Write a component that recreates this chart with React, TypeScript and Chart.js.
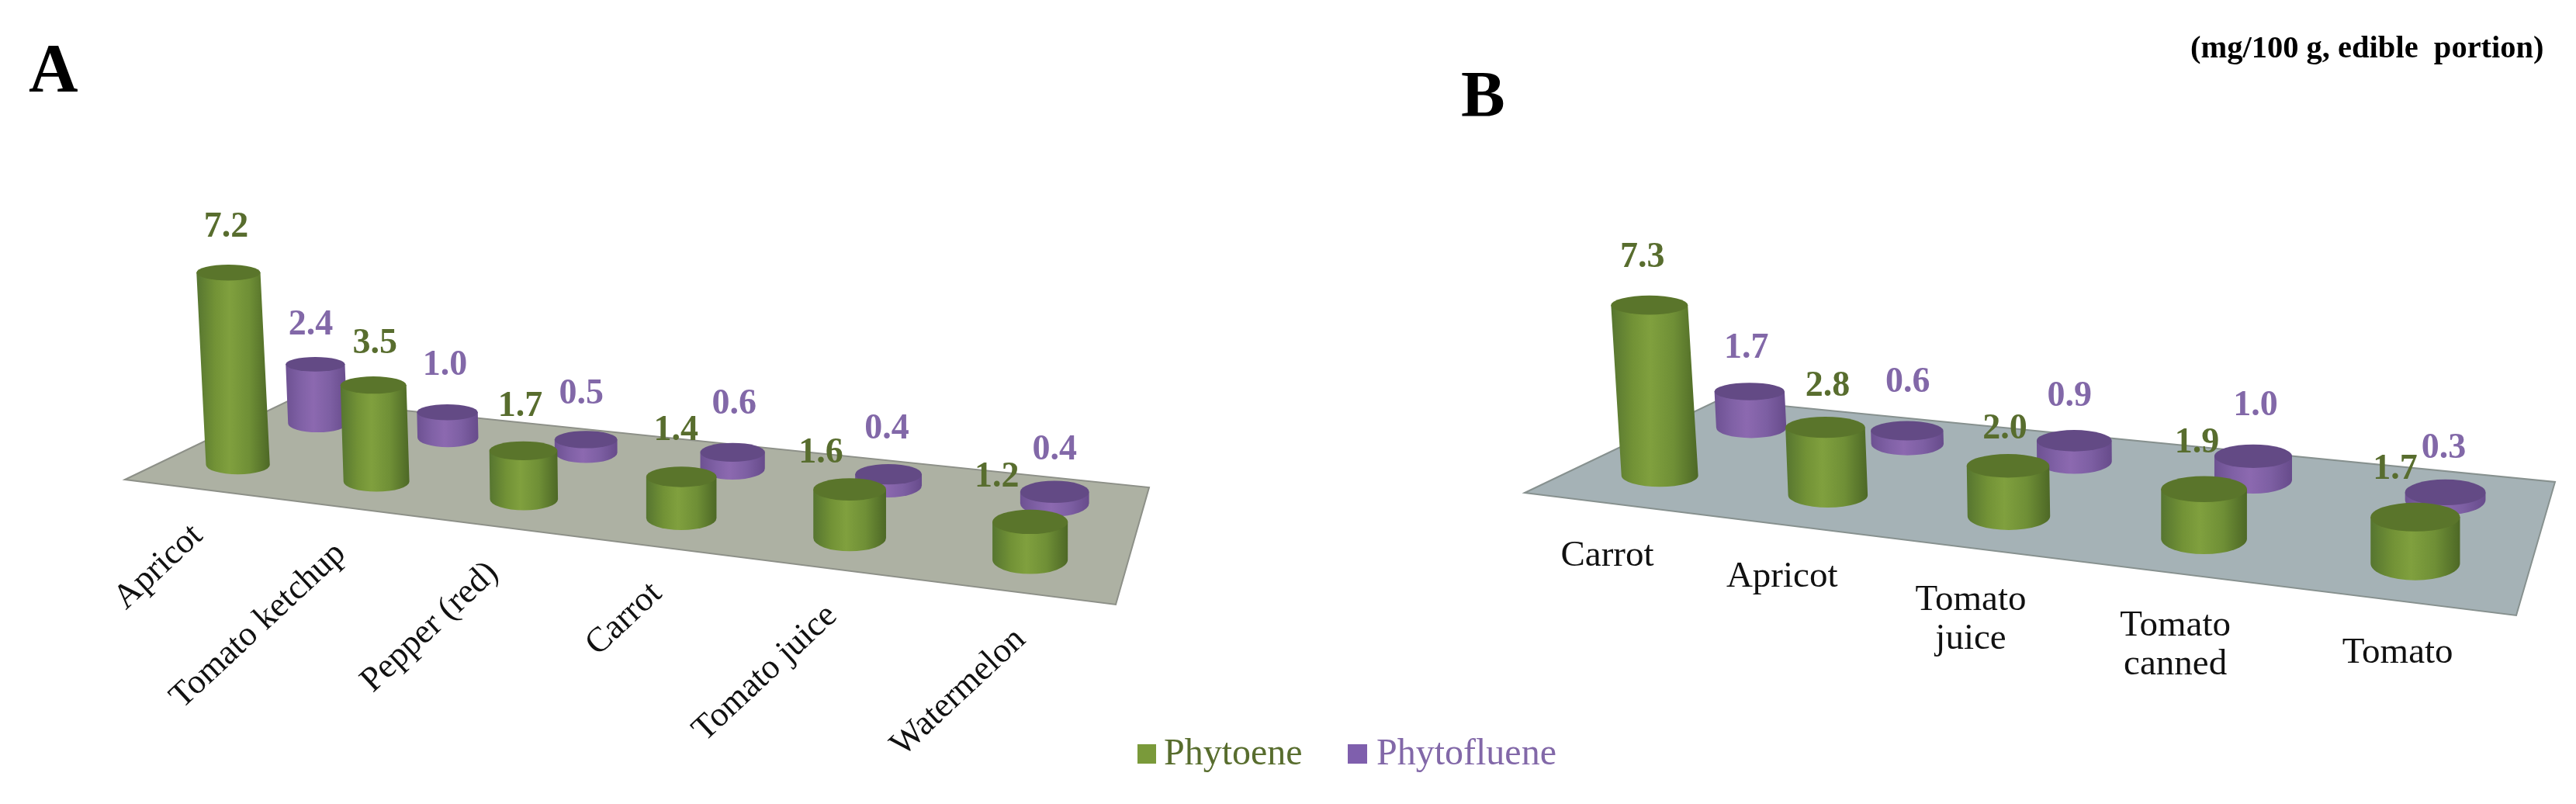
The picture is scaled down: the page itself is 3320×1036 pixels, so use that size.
import React, { useEffect, useRef } from "react";
import { Chart, registerables } from "chart.js";

Chart.register(...registerables);

// ---- data ----
const categoriesA = ["Apricot", "Tomato ketchup", "Pepper (red)", "Carrot", "Tomato juice", "Watermelon"];
const phytoeneA = [7.2, 3.5, 1.7, 1.4, 1.6, 1.2];
const phytoflueneA = [2.4, 1.0, 0.5, 0.6, 0.4, 0.4];

const categoriesB = ["Carrot", "Apricot", ["Tomato", "juice"], ["Tomato", "canned"], "Tomato"];
const phytoeneB = [7.3, 2.8, 2.0, 1.9, 1.7];
const phytoflueneB = [1.7, 0.6, 0.9, 1.0, 0.3];

const seriesNames = ["Phytoene", "Phytofluene"];

// ---- style / layout ----
const SERIF = "'Liberation Serif', serif";
const GREEN = { edgeL: "#567530", midL: "#729236", light: "#80a03e", midR: "#6f8f36", edgeR: "#4d6826", top: "#5a752b", text: "#586d2e", key: "#7a9a3a" };
const PURPLE = { edgeL: "#6d5192", midL: "#8061a6", light: "#8c69b0", midR: "#7d5fa3", edgeR: "#674b8b", top: "#634a85", text: "#8268a8", key: "#7f5fad" };
const PALETTE = [GREEN, PURPLE];
const ROW_DEPTH = [0.25, 0.75];

type P = [number, number];
interface PanelCfg {
  left: number; width: number;
  quad: P[]; // front-left, front-right, back-right, back-left (page pixels)
  floor: string; floorEdge: string;
  barShare: number; heightK: number; vanishX: number;
  rotated: boolean;
  nudges: P[][]; // value label offset from cylinder top, per series
}

const panelA: PanelCfg = {
  left: 0, width: 1660,
  quad: [[161, 618], [1438, 779], [1481, 628], [377, 514]],
  floor: "#adb1a3", floorEdge: "#8d9088",
  barShare: 0.305, heightK: 0.2726, vanishX: 800, rotated: true,
  nudges: [
    [[-3, -58], [2, -53], [-4, -57], [-7, -59], [-37, -47], [-43, -57]],
    [[-6, -50], [-3, -60], [-6, -58], [2, -62], [-2, -58], [0, -54]],
  ],
};
const panelB: PanelCfg = {
  left: 1660, width: 1660,
  quad: [[1965, 635], [3243, 793], [3293, 621], [2216, 515]],
  floor: "#a5b2b6", floorEdge: "#87918f",
  barShare: 0.307, heightK: 0.2394, vanishX: 2750, rotated: false,
  nudges: [
    [[-9, -61], [3, -53], [-4, -47], [-9, -59], [-26, -61]],
    [[-4, -55], [1, -62], [-6, -57], [3, -65], [-2, -56]],
  ],
};

function makeHomography(q: P[]) {
  const [[x0, y0], [x1, y1], [x2, y2], [x3, y3]] = q;
  const dx1 = x1 - x2, dx2 = x3 - x2, sx = x0 - x1 + x2 - x3;
  const dy1 = y1 - y2, dy2 = y3 - y2, sy = y0 - y1 + y2 - y3;
  const det = dx1 * dy2 - dx2 * dy1;
  const g = (sx * dy2 - dx2 * sy) / det;
  const h = (dx1 * sy - sx * dy1) / det;
  const a = x1 - x0 + g * x1, b = x3 - x0 + h * x3;
  const d = y1 - y0 + g * y1, e = y3 - y0 + h * y3;
  return (u: number, v: number) => {
    const w = g * u + h * v + 1;
    return { x: (a * u + b * v + x0) / w, y: (d * u + e * v + y0) / w, s: 1 / w };
  };
}

function perspectivePlugin(cfg: PanelCfg) {
  const H = makeHomography(cfg.quad);
  const toLocal = (x: number) => x - cfg.left;
  const tops = new Map<string, { x: number; y: number }>();

  return {
    id: "perspective",
    beforeDatasetsDraw(chart: any) {
      const ctx = chart.ctx;
      ctx.save();
      ctx.beginPath();
      cfg.quad.forEach(([x, y], i) => (i ? ctx.lineTo(toLocal(x), y) : ctx.moveTo(toLocal(x), y)));
      ctx.closePath();
      ctx.fillStyle = cfg.floor;
      ctx.fill();
      ctx.strokeStyle = cfg.floorEdge;
      ctx.lineWidth = 2;
      ctx.stroke();
      ctx.restore();
    },
    beforeDatasetDraw(chart: any, args: any) {
      const ctx = chart.ctx;
      const area = chart.chartArea;
      const col = PALETTE[args.index];
      const v = ROW_DEPTH[args.index];
      ctx.save();
      args.meta.data.forEach((bar: any, i: number) => {
        const u = (bar.x - area.left) / (area.right - area.left);
        const p = H(u, v);
        const bx = toLocal(p.x), by = p.y;
        const rx = (bar.width / 2) * p.s;
        const ry = rx * (0.24 + 0.09 * u);
        const ryB = ry * 1.18;
        const height = (bar.base - bar.y) * cfg.heightK * p.s;
        const tx = bx + Math.min(0, (p.x - cfg.vanishX) * height * 0.0001);
        const ty = by - height;
        const grad = ctx.createLinearGradient(Math.min(tx, bx) - rx, 0, Math.max(tx, bx) + rx, 0);
        grad.addColorStop(0, col.edgeL);
        grad.addColorStop(0.25, col.midL);
        grad.addColorStop(0.45, col.light);
        grad.addColorStop(0.72, col.midR);
        grad.addColorStop(1, col.edgeR);
        ctx.beginPath();
        ctx.moveTo(tx - rx, ty);
        ctx.lineTo(bx - rx, by);
        ctx.ellipse(bx, by, rx, ryB, 0, Math.PI, 0, true);
        ctx.lineTo(tx + rx, ty);
        ctx.closePath();
        ctx.fillStyle = grad;
        ctx.fill();
        ctx.beginPath();
        ctx.ellipse(tx, ty, rx, ry, 0, 0, Math.PI * 2);
        ctx.fillStyle = col.top;
        ctx.fill();
        tops.set(args.index + ":" + i, { x: tx, y: ty });
      });
      ctx.restore();
      return false;
    },
    afterDatasetsDraw(chart: any) {
      const ctx = chart.ctx;
      const area = chart.chartArea;
      ctx.save();
      // value labels
      ctx.textAlign = "center";
      ctx.textBaseline = "middle";
      ctx.font = `bold 46px ${SERIF}`;
      chart.data.datasets.forEach((ds: any, di: number) => {
        ctx.fillStyle = PALETTE[di].text;
        ds.data.forEach((val: number, i: number) => {
          const t = tops.get(di + ":" + i);
          if (!t) return;
          const [dx, dy] = cfg.nudges[di][i];
          ctx.fillText(val.toFixed(1), t.x + dx, t.y + dy);
        });
      });
      // category labels, following the floor's front edge
      const xs = chart.scales.x;
      ctx.fillStyle = "#111";
      chart.data.labels.forEach((lab: any, i: number) => {
        const u = (xs.getPixelForValue(i) - area.left) / (area.right - area.left);
        const p = H(u, 0);
        if (cfg.rotated) {
          ctx.save();
          ctx.font = `45px ${SERIF}`;
          ctx.translate(toLocal(p.x) + 6, p.y + 55);
          ctx.rotate((-43 * Math.PI) / 180);
          ctx.textAlign = "right";
          ctx.fillText(String(lab), 0, 0);
          ctx.restore();
        } else {
          ctx.font = `47px ${SERIF}`;
          const lines = Array.isArray(lab) ? lab : [lab];
          lines.forEach((ln: string, k: number) => ctx.fillText(ln, toLocal(p.x), p.y + 68 + k * 50));
        }
      });
      ctx.restore();
    },
  };
}

function Panel({ cfg, labels, series }: { cfg: PanelCfg; labels: any[]; series: number[][] }) {
  const ref = useRef<HTMLCanvasElement>(null);
  useEffect(() => {
    const chart = new Chart(ref.current as HTMLCanvasElement, {
      type: "bar",
      data: {
        labels,
        datasets: series.map((data, i) => ({
          label: seriesNames[i],
          data,
          backgroundColor: PALETTE[i].key,
          grouped: false,
          categoryPercentage: 1,
          barPercentage: cfg.barShare,
        })),
      },
      options: {
        responsive: false,
        animation: false,
        devicePixelRatio: 1,
        layout: { padding: 0 },
        plugins: { legend: { display: false }, title: { display: false }, tooltip: { enabled: false } },
        scales: {
          x: { display: false },
          y: { display: false, min: 0, max: 8 },
        },
      },
      plugins: [perspectivePlugin(cfg)],
    } as any);
    return () => chart.destroy();
  }, []);
  return (
    <canvas
      ref={ref}
      width={cfg.width}
      height={1036}
      style={{ position: "absolute", left: cfg.left, top: 0, width: cfg.width, height: 1036 }}
    />
  );
}

const textAt = (x: number, baseline: number, size: number, color: string, bold = false): React.CSSProperties => ({
  position: "absolute",
  left: x,
  top: baseline - size * 0.9625,
  fontFamily: SERIF,
  fontSize: size,
  lineHeight: `${size * 1.25}px`,
  height: size * 1.25,
  color,
  fontWeight: bold ? 700 : 400,
  whiteSpace: "pre",
});

export default function App() {
  useEffect(() => {
    document.body.style.margin = "0";
    document.body.style.overflow = "hidden";
  }, []);
  return (
    <div style={{ position: "fixed", left: 0, top: 0, width: 3320, height: 1036, background: "#fff", overflow: "hidden" }}>
      <Panel cfg={panelA} labels={categoriesA} series={[phytoeneA, phytoflueneA]} />
      <Panel cfg={panelB} labels={categoriesB} series={[phytoeneB, phytoflueneB]} />
      <div style={textAt(37, 118, 88, "#000", true)}>A</div>
      <div style={textAt(1883, 150, 85, "#000", true)}>B</div>
      <div style={textAt(2823, 75, 40.5, "#000", true)}>(mg/100 g, edible  portion)</div>
      <div style={{ position: "absolute", left: 1466, top: 959, width: 24, height: 25, background: GREEN.key }} />
      <div style={textAt(1500, 985, 48, GREEN.text)}>{seriesNames[0]}</div>
      <div style={{ position: "absolute", left: 1737, top: 959, width: 25, height: 25, background: PURPLE.key }} />
      <div style={textAt(1774, 985, 48, PURPLE.text)}>{seriesNames[1]}</div>
    </div>
  );
}
